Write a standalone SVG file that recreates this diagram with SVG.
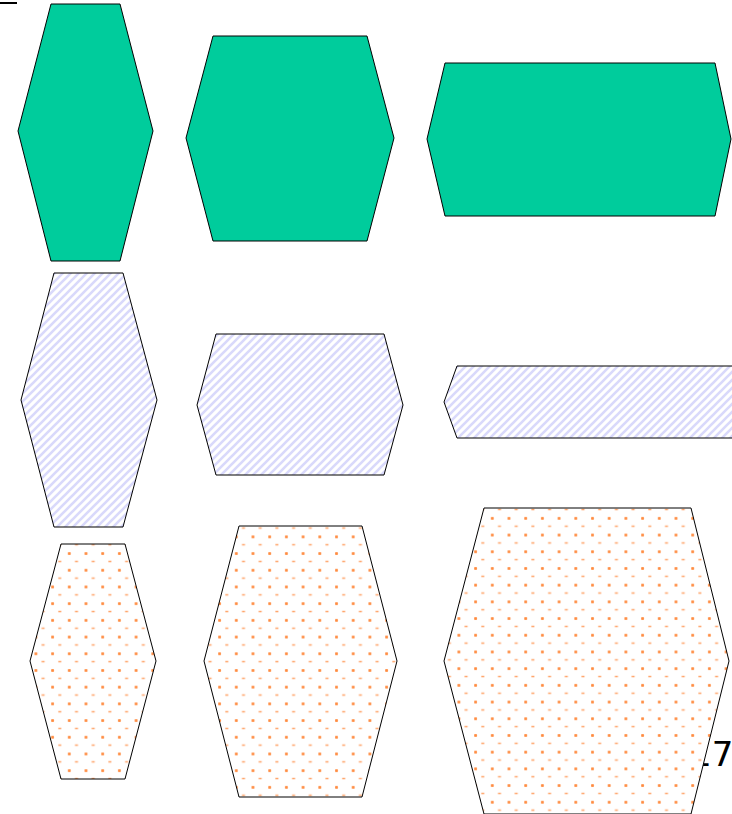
<svg xmlns="http://www.w3.org/2000/svg" width="732" height="814" viewBox="0 0 732 814">
<style>
.g{fill:#00cc9c;stroke:#000;stroke-width:1}
.h{fill:url(#hatch);stroke:#000;stroke-width:1}
.d{stroke:#000;stroke-width:1}
</style>
<defs>
<pattern id="hatch" patternUnits="userSpaceOnUse" width="8" height="8">
<rect width="8" height="8" fill="#fff"/>
<path d="M-1,9 L9,-1 M-2,2 L2,-2 M6,10 L10,6" stroke="#d9d9fb" stroke-width="2.6"/>
</pattern>
<g id="dotcell">
<rect width="16.7" height="16.7" fill="#fff"/>
<rect x="1" y="1" width="3" height="3" rx="1" fill="#ff9d5c"/>
<rect x="1.6" y="1.6" width="1.8" height="1.8" fill="#ff8a3d"/>
<rect x="8.2" y="9.6" width="3" height="1.5" fill="#ffa56a"/>
</g>
<pattern id="dotsA" patternUnits="userSpaceOnUse" width="16.7" height="16.7" x="0" y="0">
<use href="#dotcell"/>
</pattern>
<pattern id="dotsB" patternUnits="userSpaceOnUse" width="16.7" height="16.7" x="5.5" y="-1.8">
<use href="#dotcell"/>
</pattern>
</defs>
<line x1="0" y1="3" x2="17" y2="3" stroke="#000" stroke-width="2"/>
<text x="690" y="766" font-family="DejaVu Sans, sans-serif" font-size="34" fill="#000">17</text>
<g id="n1"><polygon class="g" points="51,4 120,4 153,131 120,261 51,261 18,131"/></g>
<g id="n2"><polygon class="g" points="213,36 367,36 394,138 367,241 213,241 186,138"/></g>
<g id="n3"><polygon class="g" points="445,63 715,63 731,139 715,216 445,216 427,139"/></g>
<g id="n4"><polygon class="h" points="54,273 123,273 157,400 123,527 54,527 21,400"/></g>
<g id="n5"><polygon class="h" points="216,334 384,334 403,405 384,475 216,475 197,405"/></g>
<g id="n6"><polygon class="h" points="457,366 750,366 763,402 750,438 457,438 444,402"/></g>
<g id="n7"><polygon class="d" fill="url(#dotsA)" points="61,544 125,544 156,661 125,779 61,779 30,661"/></g>
<g id="n8"><polygon class="d" fill="url(#dotsA)" points="239,526 362,526 397,661 362,797 239,797 204,661"/></g>
<g id="n9"><polygon class="d" fill="url(#dotsB)" points="484,508 691,508 729,661 691,814 484,814 444,661"/></g>
<g id="connectors"></g>
</svg>
